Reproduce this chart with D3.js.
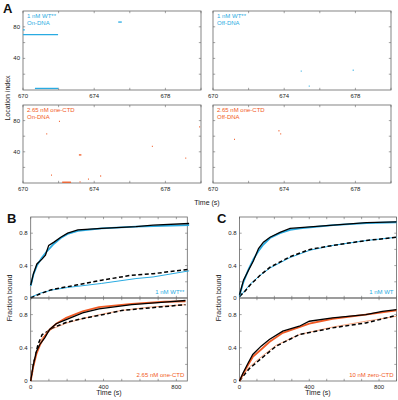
<!DOCTYPE html>
<html>
<head>
<meta charset="utf-8">
<script src="https://cdn.jsdelivr.net/npm/d3@7"></script>
<style>
body{margin:0;background:#fff}
svg{font-family:"Liberation Sans",Arial,sans-serif}
.tk{font-size:6px;fill:#222}
.ttl{font-size:7px;fill:#222}
.lab{font-size:6px}
.big{font-size:13px;font-weight:bold;fill:#111}
</style>
</head>
<body>
<svg id="fig" width="398" height="400" viewBox="0 0 398 400"></svg>
<script>
const BLUE = "#29abe2", ORANGE = "#f15a24", LORANGE = "#f8a47e"

// panel A: binding events [tStart, tEnd, location]
const wtOn = [[670.0,670.1,76],[670.0,671.97,70],[670.67,671.98,2],[675.35,675.55,86]]
const wtOff = [[674.93,674.98,24],[675.38,675.43,5],[677.85,677.9,25]]
const ctdOn = [[671.31,671.36,63],[672.02,672.07,79],[673.14,673.28,36],[671.58,671.63,10],
  [672.2,672.7,1],[673.18,673.23,1.5],[673.65,673.7,5],[674.34,674.39,9],[677.24,677.29,47],
  [679.12,679.17,32],[679.9,679.95,72]]
const ctdOff = [[671.18,671.23,56],[673.68,673.73,67],[673.78,673.83,63]]
const aXTicks = [670,674,678]
const aYTicks = [40,80]

// panel B/C: [time s, fraction bound]
const wtStarOn = [[0,0.16],[15,0.3],[34,0.42],[62,0.48],[81,0.53],[99,0.65],[128,0.69],[165,0.75],[203,0.8],[259,0.84],[390,0.86],[578,0.88],[672,0.9],[870,0.92]]
const wtStarOnFit = [[0,0.15],[15,0.29],[34,0.4],[62,0.5],[90,0.58],[128,0.67],[165,0.74],[203,0.79],[259,0.83],[390,0.86],[578,0.88],[870,0.9]]
const wtStarOff = [[0,0],[50,0.05],[109,0.1],[250,0.16],[390,0.22],[550,0.28],[672,0.3],[870,0.355]]
const wtStarOffFit = [[0,0.01],[53,0.06],[120,0.1],[203,0.13],[390,0.18],[578,0.24],[672,0.26],[870,0.335]]

const oneOn = [[0,0],[14,0.19],[32,0.36],[50,0.44],[77,0.52],[104,0.62],[140,0.69],[195,0.74],[285,0.82],[375,0.87],[555,0.92],[735,0.95],[850,0.97]]
const oneOnFit = [[0,0],[14,0.17],[32,0.33],[50,0.43],[77,0.54],[104,0.62],[140,0.69],[195,0.76],[285,0.84],[375,0.89],[555,0.93],[735,0.955],[850,0.96]]
const oneOff = [[0,0],[18,0.23],[40,0.44],[63,0.56],[95,0.6],[120,0.64],[200,0.71],[300,0.76],[400,0.8],[500,0.85],[650,0.88],[850,0.92]]
const oneOffFit = [[0,0],[18,0.25],[40,0.4],[63,0.52],[95,0.59],[120,0.63],[200,0.7],[300,0.76],[400,0.81],[500,0.85],[650,0.89],[850,0.92]]

const wtOn2 = [[0,0.04],[23,0.22],[51,0.34],[80,0.46],[109,0.61],[137,0.69],[175,0.75],[232,0.81],[290,0.86],[347,0.87],[537,0.9],[728,0.93],[900,0.94]]
const wtOn2Fit = [[0,0.03],[23,0.2],[51,0.35],[80,0.48],[109,0.58],[137,0.66],[175,0.74],[232,0.8],[290,0.84],[347,0.86],[537,0.9],[728,0.925],[900,0.935]]
const wtOff2 = [[0,0.02],[30,0.08],[61,0.16],[118,0.28],[175,0.38],[290,0.51],[404,0.6],[537,0.65],[728,0.71],[900,0.75]]
const wtOff2Fit = [[0,0.01],[30,0.09],[61,0.17],[118,0.28],[175,0.37],[290,0.5],[404,0.59],[537,0.65],[728,0.71],[900,0.75]]

const zeroOn = [[0,0],[19,0.09],[48,0.21],[76,0.32],[124,0.42],[171,0.5],[248,0.6],[343,0.66],[400,0.72],[533,0.76],[724,0.8],[819,0.84],[900,0.86]]
const zeroOnFit = [[0,0],[19,0.08],[48,0.19],[76,0.29],[124,0.38],[171,0.47],[248,0.58],[343,0.65],[400,0.69],[533,0.75],[724,0.8],[900,0.85]]
const zeroOff = [[0,0],[25,0.07],[57,0.15],[124,0.27],[210,0.42],[343,0.56],[533,0.64],[724,0.7],[900,0.79]]
const zeroOffFit = [[0,0],[25,0.08],[57,0.17],[124,0.29],[210,0.43],[343,0.56],[533,0.65],[724,0.72],[900,0.78]]

const bcYTicks = [0,0.4,0.8]

const svg = d3.select("#fig")

// MATLAB-like frame with inward ticks on all 4 sides
function frame(g, x, y, xt, yt, xlab, ylab, fmtY){
  const [x0,x1] = x.range(), [y1,y0] = y.range()
  g.append("rect").attr("x",x0).attr("y",y0).attr("width",x1-x0).attr("height",y1-y0)
    .attr("fill","none").attr("stroke","#666").attr("stroke-width",0.8)
  const tl = 2.2
  xt.forEach(v=>{
    g.append("line").attr("x1",x(v)).attr("x2",x(v)).attr("y1",y1).attr("y2",y1-tl).attr("stroke","#666").attr("stroke-width",0.6)
    g.append("line").attr("x1",x(v)).attr("x2",x(v)).attr("y1",y0).attr("y2",y0+tl).attr("stroke","#666").attr("stroke-width",0.6)
  })
  yt.forEach(v=>{
    g.append("line").attr("x1",x0).attr("x2",x0+tl).attr("y1",y(v)).attr("y2",y(v)).attr("stroke","#666").attr("stroke-width",0.6)
    g.append("line").attr("x1",x1).attr("x2",x1-tl).attr("y1",y(v)).attr("y2",y(v)).attr("stroke","#666").attr("stroke-width",0.6)
  })
  if(xlab) xlab.forEach(v=>{
    g.append("text").attr("class","tk").attr("x",x(v)).attr("y",y1+8).attr("text-anchor","middle").text(v)
  })
  if(ylab) ylab.forEach(v=>{
    g.append("text").attr("class","tk").attr("x",x0-3).attr("y",y(v)+2).attr("text-anchor","end").text(fmtY?fmtY(v):v)
  })
}

// ---- panel A
const aPanels = [
  {data:wtOn, x0:23, y0:11, y1:90, col:BLUE, t1:"1 nM WT**", t2:"On-DNA", ylab:true},
  {data:wtOff, x0:213, y0:11, y1:90, col:BLUE, t1:"1 nM WT**", t2:"Off-DNA", ylab:false},
  {data:ctdOn, x0:23, y0:105, y1:183, col:ORANGE, t1:"2.65 nM one-CTD", t2:"On-DNA", ylab:true},
  {data:ctdOff, x0:213, y0:105, y1:183, col:ORANGE, t1:"2.65 nM one-CTD", t2:"Off-DNA", ylab:false}
]
aPanels.forEach(p=>{
  const x = d3.scaleLinear().domain([670,680]).range([p.x0,p.x0+178])
  const y = d3.scaleLinear().domain([0,100]).range([p.y1,p.y0])
  const g = svg.append("g")
  frame(g, x, y, d3.range(670,681,2), [20,40,60,80], aXTicks, p.ylab?aYTicks:null)
  g.selectAll(".ev").data(p.data).enter().append("line")
    .attr("x1",d=>x(d[0])).attr("x2",d=>x(d[1]))
    .attr("y1",d=>y(d[2])).attr("y2",d=>y(d[2]))
    .attr("stroke",p.col).attr("stroke-width",1.3)
  g.append("text").attr("class","lab").attr("x",p.x0+4).attr("y",p.y0+7).attr("fill",p.col).text(p.t1)
  g.append("text").attr("class","lab").attr("x",p.x0+4).attr("y",p.y0+14).attr("fill",p.col).text(p.t2)
})
svg.append("text").attr("class","big").attr("x",3).attr("y",13).text("A")
svg.append("text").attr("class","ttl").attr("transform","translate(10,98) rotate(-90)").attr("text-anchor","middle").text("Location index")
svg.append("text").attr("class","ttl").attr("x",207).attr("y",205).attr("text-anchor","middle").text("Time (s)")

// ---- panels B and C
function kinetics(px0, px1, tmax, top, bot, col, lab){
  const x = d3.scaleLinear().domain([0,tmax]).range([px0,px1])
  const yT = d3.scaleLinear().domain([0,1]).range([298,217])
  const yB = d3.scaleLinear().domain([0,1]).range([381,298])
  const ticksX = d3.range(0,tmax+1,100)
  const fmt = v=> v===0?"0":d3.format(".1f")(v)
  const g = svg.append("g")
  ;[[yT,top,col[0],lab[0]],[yB,bot,col[1],lab[1]]].forEach(([y,s,c,l],i)=>{
    frame(g, x, y, ticksX, [0.2,0.4,0.6,0.8], i==1?[0,400,800]:null, bcYTicks, fmt)
    const line = d3.line().x(d=>x(d[0])).y(d=>y(d[1]))
    g.append("path").attr("d",line(s[3])).attr("fill","none").attr("stroke",c==BLUE?BLUE:LORANGE).attr("stroke-width",1)
    g.append("path").attr("d",line(s[2])).attr("fill","none").attr("stroke","#000").attr("stroke-width",1.5).attr("stroke-dasharray","4,2.5")
    g.append("path").attr("d",line(s[1])).attr("fill","none").attr("stroke",c).attr("stroke-width",1.8)
    g.append("path").attr("d",line(s[0])).attr("fill","none").attr("stroke","#000").attr("stroke-width",1.3)
    g.append("text").attr("class","lab").attr("x",px1-3).attr("y",y(0)-4).attr("text-anchor","end").attr("fill",c).text(l)
  })
  g.append("text").attr("class","ttl").attr("x",(px0+px1)/2).attr("y",395).attr("text-anchor","middle").text("Time (s)")
  g.append("text").attr("class","ttl").attr("transform",`translate(${px0-19},298) rotate(-90)`).attr("text-anchor","middle").text("Fraction bound")
}
kinetics(30.7, 187.3, 860, [wtStarOn,wtStarOnFit,wtStarOff,wtStarOffFit], [oneOn,oneOnFit,oneOff,oneOffFit],
  [BLUE,ORANGE], ["1 nM WT**","2.65 nM one-CTD"])
kinetics(239.5, 396.5, 900, [wtOn2,wtOn2Fit,wtOff2,wtOff2Fit], [zeroOn,zeroOnFit,zeroOff,zeroOffFit],
  [BLUE,ORANGE], ["1 nM WT","10 nM zero-CTD"])
svg.append("text").attr("class","big").attr("x",7).attr("y",223).text("B")
svg.append("text").attr("class","big").attr("x",217).attr("y",223).text("C")
</script>
</body>
</html>
